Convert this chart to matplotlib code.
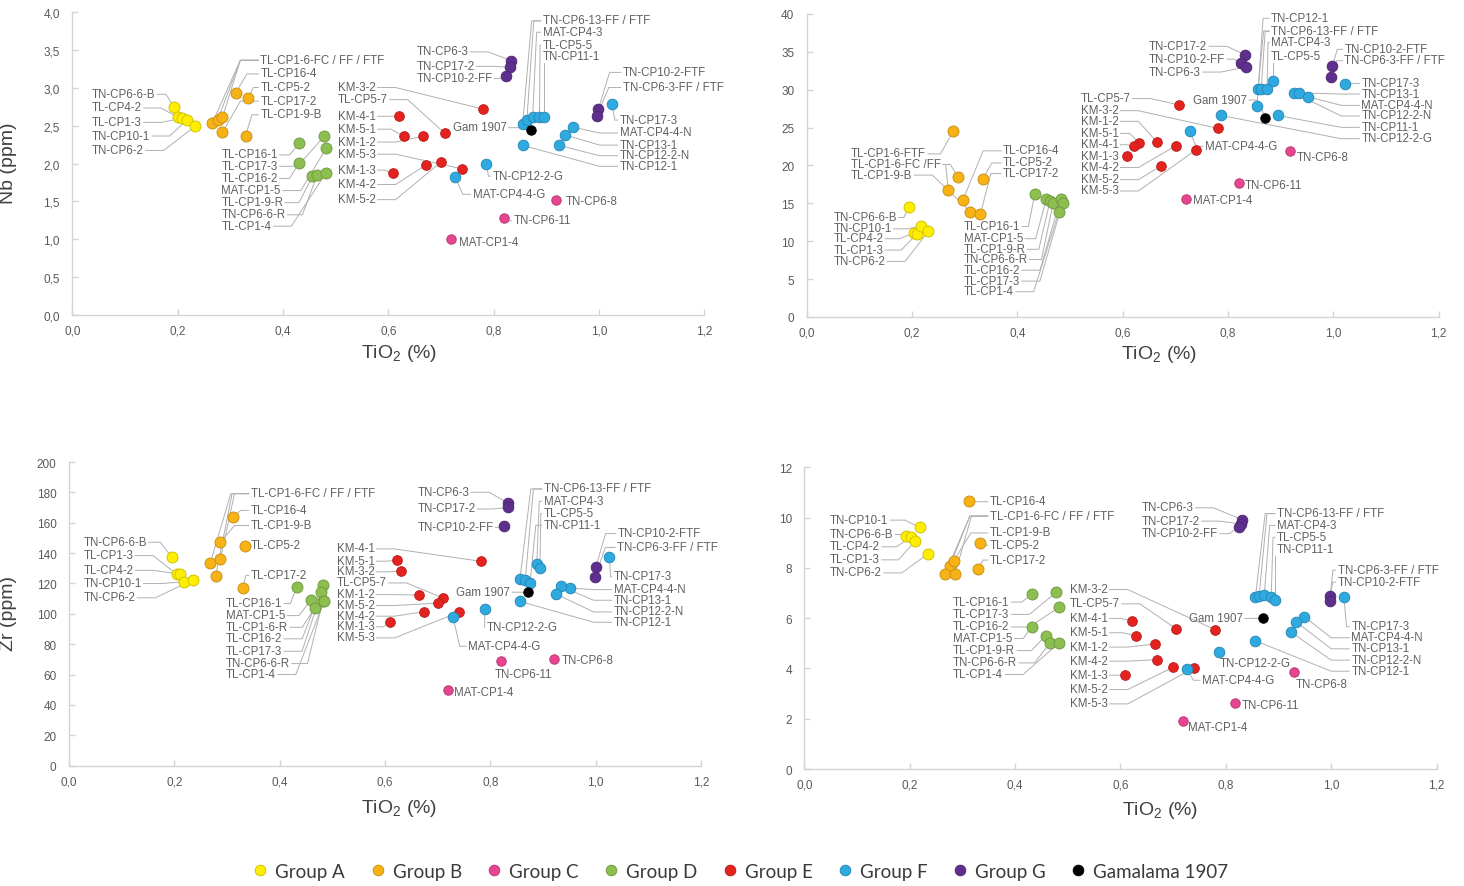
import matplotlib
matplotlib.use('Agg')
import matplotlib.pyplot as plt
import matplotlib.colors as mcolors
from matplotlib.lines import Line2D
import numpy as np

plt.rcParams['font.family'] = ['Liberation Sans', 'DejaVu Sans']
plt.rcParams['mathtext.default'] = 'regular'

# ---------------- data ----------------
FC3 = 'TL-CP1-6-FC / FF / FTF'
T13 = 'TN-CP6-13-FF / FTF'
T63 = 'TN-CP6-3-FF / FTF'

# group of every point (same composition in every panel)
point_groups = (['A'] * 5 + ['B'] * 7 + ['D'] * 7 + ['E'] * 9 + ['F'] * 12 +
                ['G'] * 5 + ['C'] * 3 + ['Gam'])

# Panel 1 : Nb vs TiO2
p1_names = ['TN-CP6-6-B', 'TL-CP4-2', 'TL-CP1-3', 'TN-CP10-1', 'TN-CP6-2',
            FC3, FC3, FC3, 'TL-CP16-4', 'TL-CP5-2', 'TL-CP17-2', 'TL-CP1-9-B',
            'TL-CP16-1', 'TL-CP17-3', 'TL-CP16-2', 'MAT-CP1-5', 'TL-CP1-9-R', 'TN-CP6-6-R', 'TL-CP1-4',
            'KM-3-2', 'TL-CP5-7', 'KM-4-1', 'KM-5-1', 'KM-1-2', 'KM-5-3', 'KM-1-3', 'KM-4-2', 'KM-5-2',
            T13, T13, 'MAT-CP4-3', 'TL-CP5-5', 'TN-CP11-1', 'TN-CP17-3', 'MAT-CP4-4-N', 'TN-CP13-1',
            'TN-CP12-2-N', 'TN-CP12-1', 'TN-CP12-2-G', 'MAT-CP4-4-G',
            'TN-CP6-3', 'TN-CP17-2', 'TN-CP10-2-FF', 'TN-CP10-2-FTF', T63,
            'TN-CP6-8', 'TN-CP6-11', 'MAT-CP1-4', 'Gam 1907']
p1_tio2 = [0.194, 0.201, 0.209, 0.218, 0.233,
           0.266, 0.276, 0.285, 0.310, 0.334, 0.285, 0.329,
           0.431, 0.478, 0.431, 0.482, 0.456, 0.465, 0.482,
           0.779, 0.707, 0.620, 0.630, 0.666, 0.740, 0.608, 0.671, 0.700,
           0.855, 0.863, 0.874, 0.887, 0.895, 1.025, 0.951, 0.935, 0.924, 0.855, 0.786, 0.727,
           0.833, 0.831, 0.823, 0.999, 0.996,
           0.919, 0.819, 0.719, 0.870]
p1_nb = [2.74, 2.61, 2.60, 2.58, 2.49,
         2.54, 2.58, 2.61, 2.93, 2.86, 2.41, 2.37,
         2.27, 2.36, 2.01, 2.20, 1.83, 1.85, 1.88,
         2.72, 2.40, 2.63, 2.36, 2.36, 1.93, 1.87, 1.98, 2.02,
         2.52, 2.57, 2.61, 2.62, 2.61, 2.78, 2.48, 2.38, 2.24, 2.24, 2.00, 1.82,
         3.36, 3.27, 3.15, 2.72, 2.63,
         1.52, 1.28, 1.00, 2.44]

# Panel 2 : top-right (0-40)
p2_names = ['TN-CP6-6-B', 'TL-CP4-2', 'TL-CP1-3', 'TN-CP10-1', 'TN-CP6-2',
            'TL-CP1-6-FTF', 'TL-CP1-6-FC /FF', 'TL-CP1-6-FC /FF', 'TL-CP16-4', 'TL-CP1-9-B', 'TL-CP17-2', 'TL-CP5-2',
            'TL-CP16-1', 'MAT-CP1-5', 'TL-CP1-9-R', 'TN-CP6-6-R', 'TL-CP16-2', 'TL-CP17-3', 'TL-CP1-4',
            'TL-CP5-7', 'KM-3-2', 'KM-1-2', 'KM-4-2', 'KM-5-3', 'KM-5-1', 'KM-4-1', 'KM-1-3', 'KM-5-2',
            'TL-CP5-5', T13, T13, 'MAT-CP4-3', 'TN-CP12-1', 'TN-CP12-2-G', 'MAT-CP4-4-G', 'TN-CP11-1',
            'TN-CP12-2-N', 'TN-CP13-1', 'MAT-CP4-4-N', 'TN-CP17-3',
            'TN-CP17-2', 'TN-CP10-2-FF', 'TN-CP6-3', 'TN-CP10-2-FTF', T63,
            'TN-CP6-8', 'TN-CP6-11', 'MAT-CP1-4', 'Gam 1907']
p2_tio2 = [0.194, 0.204, 0.210, 0.217, 0.231,
           0.278, 0.269, 0.287, 0.297, 0.311, 0.330, 0.334,
           0.433, 0.455, 0.462, 0.468, 0.482, 0.486, 0.479,
           0.707, 0.781, 0.665, 0.701, 0.740, 0.631, 0.621, 0.608, 0.672,
           0.885, 0.857, 0.863, 0.874, 0.855, 0.787, 0.727, 0.894, 0.925, 0.935, 0.951, 1.023,
           0.832, 0.824, 0.834, 0.998, 0.996,
           0.918, 0.820, 0.720, 0.871]
p2_val = [14.5, 11.1, 11.0, 12.0, 11.3,
          24.5, 16.8, 18.5, 15.5, 13.9, 13.6, 18.2,
          16.2, 15.6, 15.3, 15.0, 15.6, 15.1, 13.9,
          28.0, 24.9, 23.1, 22.6, 22.1, 23.0, 22.6, 21.2, 19.9,
          31.2, 30.1, 30.1, 30.1, 27.8, 26.6, 24.5, 26.6, 29.6, 29.6, 29.1, 30.7,
          34.6, 33.5, 33.0, 33.1, 31.7,
          21.9, 17.7, 15.6, 26.3]

# Panel 3 : Zr vs TiO2
p3_names = ['TN-CP6-6-B', 'TL-CP1-3', 'TL-CP4-2', 'TN-CP10-1', 'TN-CP6-2',
            FC3, FC3, FC3, 'TL-CP16-4', 'TL-CP1-9-B', 'TL-CP5-2', 'TL-CP17-2',
            'TL-CP16-1', 'MAT-CP1-5', 'TL-CP1-6-R', 'TL-CP16-2', 'TL-CP17-3', 'TN-CP6-6-R', 'TL-CP1-4',
            'KM-4-1', 'KM-5-1', 'KM-3-2', 'TL-CP5-7', 'KM-1-2', 'KM-5-2', 'KM-4-2', 'KM-1-3', 'KM-5-3',
            T13, T13, 'MAT-CP4-3', 'TL-CP5-5', 'TN-CP11-1', 'TN-CP17-3', 'MAT-CP4-4-N', 'TN-CP13-1',
            'TN-CP12-2-N', 'TN-CP12-1', 'TN-CP12-2-G', 'MAT-CP4-4-G',
            'TN-CP6-3', 'TN-CP17-2', 'TN-CP10-2-FF', 'TN-CP10-2-FTF', T63,
            'TN-CP6-8', 'TN-CP6-11', 'MAT-CP1-4', 'Gam 1907']
p3_tio2 = [0.195, 0.204, 0.211, 0.218, 0.235,
           0.268, 0.287, 0.278, 0.311, 0.287, 0.334, 0.330,
           0.432, 0.459, 0.466, 0.482, 0.479, 0.482, 0.484,
           0.782, 0.622, 0.630, 0.710, 0.665, 0.700, 0.673, 0.609, 0.741,
           0.856, 0.866, 0.888, 0.894, 0.875, 1.026, 0.951, 0.934, 0.925, 0.856, 0.789, 0.729,
           0.833, 0.834, 0.825, 1.000, 0.999,
           0.920, 0.820, 0.720, 0.872]
p3_zr = [137.2, 126.2, 126.2, 121.1, 122.3,
         133.4, 135.9, 124.7, 163.5, 147.1, 144.8, 117.0,
         117.8, 109.1, 103.6, 119.0, 114.2, 108.7, 108.2,
         134.6, 135.4, 128.4, 110.4, 112.4, 107.1, 101.4, 94.8, 101.2,
         122.7, 122.2, 132.8, 130.1, 120.0, 137.6, 117.0, 118.1, 113.0, 108.2, 103.3, 97.8,
         173.1, 170.1, 157.6, 130.6, 124.4,
         70.2, 68.7, 49.8, 114.1]

# Panel 4 : bottom-right (0-12)
p4_names = ['TN-CP10-1', 'TN-CP6-6-B', 'TL-CP4-2', 'TL-CP1-3', 'TN-CP6-2',
            FC3, FC3, FC3, 'TL-CP16-4', 'TL-CP1-9-B', 'TL-CP5-2', 'TL-CP17-2',
            'TL-CP16-1', 'TL-CP17-3', 'TL-CP16-2', 'MAT-CP1-5', 'TL-CP1-9-R', 'TN-CP6-6-R', 'TL-CP1-4',
            'KM-3-2', 'TL-CP5-7', 'KM-4-1', 'KM-5-1', 'KM-1-2', 'KM-4-2', 'KM-1-3', 'KM-5-2', 'KM-5-3',
            T13, T13, 'MAT-CP4-3', 'TL-CP5-5', 'TN-CP11-1', 'TN-CP17-3', 'MAT-CP4-4-N', 'TN-CP13-1',
            'TN-CP12-2-N', 'TN-CP12-1', 'TN-CP12-2-G', 'MAT-CP4-4-G',
            'TN-CP6-3', 'TN-CP17-2', 'TN-CP10-2-FF', T63, 'TN-CP10-2-FTF',
            'TN-CP6-8', 'TN-CP6-11', 'MAT-CP1-4', 'Gam 1907']
p4_tio2 = [0.219, 0.193, 0.202, 0.210, 0.234,
           0.276, 0.267, 0.286, 0.312, 0.284, 0.333, 0.330,
           0.432, 0.478, 0.483, 0.432, 0.458, 0.466, 0.483,
           0.780, 0.706, 0.621, 0.629, 0.665, 0.669, 0.608, 0.700, 0.739,
           0.856, 0.863, 0.873, 0.886, 0.894, 1.024, 0.949, 0.933, 0.924, 0.856, 0.787, 0.726,
           0.831, 0.829, 0.824, 0.998, 0.997,
           0.929, 0.818, 0.718, 0.870]
p4_val = [9.61, 9.28, 9.21, 9.06, 8.55,
          8.06, 7.74, 7.76, 10.67, 8.29, 9.00, 7.94,
          6.96, 7.03, 6.43, 5.66, 5.30, 5.01, 5.01,
          5.54, 5.57, 5.90, 5.30, 4.97, 4.35, 3.75, 4.05, 4.01,
          6.83, 6.87, 6.93, 6.85, 6.73, 6.83, 6.06, 5.86, 5.44, 5.10, 4.67, 3.98,
          9.92, 9.75, 9.61, 6.87, 6.69,
          3.87, 2.61, 1.92, 6.01]

legend_labels = ['Group A', 'Group B', 'Group C', 'Group D', 'Group E', 'Group F', 'Group G', 'Gamalama 1907']
legend_groups = ['A', 'B', 'C', 'D', 'E', 'F', 'G', 'Gam']
xticks = [0.0, 0.2, 0.4, 0.6, 0.8, 1.0, 1.2]

# ---------------- layout (label anchor positions, left edge) ----------------
p1_labels = {
    'TN-CP6-6-B': (0.037, 2.92), 'TL-CP4-2': (0.037, 2.74), 'TL-CP1-3': (0.037, 2.55),
    'TN-CP10-1': (0.037, 2.37), 'TN-CP6-2': (0.037, 2.18),
    FC3: (0.357, 3.37), 'TL-CP16-4': (0.357, 3.19), 'TL-CP5-2': (0.357, 3.01),
    'TL-CP17-2': (0.357, 2.83), 'TL-CP1-9-B': (0.357, 2.65),
    'TL-CP16-1': (0.283, 2.12), 'TL-CP17-3': (0.283, 1.97), 'TL-CP16-2': (0.283, 1.81),
    'MAT-CP1-5': (0.283, 1.65), 'TL-CP1-9-R': (0.283, 1.49), 'TN-CP6-6-R': (0.283, 1.33),
    'TL-CP1-4': (0.283, 1.18),
    'KM-3-2': (0.504, 3.01), 'TL-CP5-7': (0.504, 2.85), 'KM-4-1': (0.504, 2.63),
    'KM-5-1': (0.504, 2.46), 'KM-1-2': (0.504, 2.29), 'KM-5-3': (0.504, 2.13),
    'KM-1-3': (0.504, 1.92), 'KM-4-2': (0.504, 1.73), 'KM-5-2': (0.504, 1.53),
    'Gam 1907': (0.722, 2.48),
    'TN-CP6-3': (0.653, 3.48), 'TN-CP17-2': (0.653, 3.29), 'TN-CP10-2-FF': (0.653, 3.13),
    T13: (0.893, 3.89), 'MAT-CP4-3': (0.893, 3.74), 'TL-CP5-5': (0.893, 3.57), 'TN-CP11-1': (0.893, 3.42),
    'TN-CP10-2-FTF': (1.045, 3.21), T63: (1.045, 3.01),
    'TN-CP17-3': (1.039, 2.58), 'MAT-CP4-4-N': (1.039, 2.41), 'TN-CP13-1': (1.039, 2.25),
    'TN-CP12-2-N': (1.039, 2.11), 'TN-CP12-1': (1.039, 1.97),
    'TN-CP12-2-G': (0.798, 1.84), 'MAT-CP4-4-G': (0.760, 1.60), 'TN-CP6-8': (0.937, 1.50),
    'TN-CP6-11': (0.838, 1.25), 'MAT-CP1-4': (0.735, 0.96),
}
p2_labels = {
    'TN-CP6-6-B': (0.0505, 13.2), 'TN-CP10-1': (0.0505, 11.7), 'TL-CP4-2': (0.0505, 10.4),
    'TL-CP1-3': (0.0505, 8.9), 'TN-CP6-2': (0.0505, 7.4),
    'TL-CP1-6-FTF': (0.084, 21.6), 'TL-CP1-6-FC /FF': (0.084, 20.2), 'TL-CP1-9-B': (0.084, 18.8),
    'TL-CP16-4': (0.373, 22.0), 'TL-CP5-2': (0.373, 20.4), 'TL-CP17-2': (0.373, 19.0),
    'TL-CP16-1': (0.298, 12.0), 'MAT-CP1-5': (0.298, 10.4), 'TL-CP1-9-R': (0.298, 9.0),
    'TN-CP6-6-R': (0.298, 7.65), 'TL-CP16-2': (0.298, 6.25), 'TL-CP17-3': (0.298, 4.8),
    'TL-CP1-4': (0.298, 3.4),
    'TL-CP5-7': (0.520, 28.9), 'KM-3-2': (0.520, 27.3), 'KM-1-2': (0.520, 25.9),
    'KM-5-1': (0.520, 24.3), 'KM-4-1': (0.520, 22.8), 'KM-1-3': (0.520, 21.3),
    'KM-4-2': (0.520, 19.8), 'KM-5-2': (0.520, 18.2), 'KM-5-3': (0.520, 16.7),
    'Gam 1907': (0.734, 28.7),
    'TN-CP17-2': (0.650, 35.8), 'TN-CP10-2-FF': (0.650, 34.1), 'TN-CP6-3': (0.650, 32.4),
    'TN-CP12-1': (0.882, 39.5), T13: (0.882, 37.8), 'MAT-CP4-3': (0.882, 36.3), 'TL-CP5-5': (0.882, 34.5),
    'TN-CP10-2-FTF': (1.021, 35.4), T63: (1.021, 33.9),
    'TN-CP17-3': (1.053, 30.9), 'TN-CP13-1': (1.053, 29.5), 'MAT-CP4-4-N': (1.053, 28.0),
    'TN-CP12-2-N': (1.053, 26.6), 'TN-CP11-1': (1.053, 25.1), 'TN-CP12-2-G': (1.053, 23.6),
    'MAT-CP4-4-G': (0.756, 22.6), 'TN-CP6-8': (0.930, 21.1), 'TN-CP6-11': (0.832, 17.4),
    'MAT-CP1-4': (0.734, 15.5),
}
p3_labels = {
    'TN-CP6-6-B': (0.027, 147.5), 'TL-CP1-3': (0.027, 138.7), 'TL-CP4-2': (0.027, 129.0),
    'TN-CP10-1': (0.027, 120.3), 'TN-CP6-2': (0.027, 110.9),
    FC3: (0.345, 179.5), 'TL-CP16-4': (0.345, 168.5), 'TL-CP1-9-B': (0.345, 158.5),
    'TL-CP5-2': (0.345, 145.5), 'TL-CP17-2': (0.345, 125.7),
    'TL-CP16-1': (0.2975, 107.1), 'MAT-CP1-5': (0.2975, 99.2), 'TL-CP1-6-R': (0.2975, 91.5),
    'TL-CP16-2': (0.2975, 83.9), 'TL-CP17-3': (0.2975, 75.7), 'TN-CP6-6-R': (0.2975, 67.6),
    'TL-CP1-4': (0.2975, 60.4),
    'KM-4-1': (0.508, 143.1), 'KM-5-1': (0.508, 135.0), 'KM-3-2': (0.508, 128.0),
    'TL-CP5-7': (0.508, 120.7), 'KM-1-2': (0.508, 113.0), 'KM-5-2': (0.508, 105.8),
    'KM-4-2': (0.508, 98.8), 'KM-1-3': (0.508, 91.8), 'KM-5-3': (0.508, 84.5),
    'Gam 1907': (0.735, 114.6),
    'TN-CP6-3': (0.661, 180.4), 'TN-CP17-2': (0.661, 169.4), 'TN-CP10-2-FF': (0.661, 157.3),
    T13: (0.901, 182.6), 'MAT-CP4-3': (0.901, 174.5), 'TL-CP5-5': (0.901, 166.4), 'TN-CP11-1': (0.901, 158.7),
    'TN-CP10-2-FTF': (1.041, 153.2), T63: (1.041, 144.1),
    'TN-CP17-3': (1.034, 124.7), 'MAT-CP4-4-N': (1.034, 116.3), 'TN-CP13-1': (1.034, 109.3),
    'TN-CP12-2-N': (1.034, 101.6), 'TN-CP12-1': (1.034, 94.8),
    'TN-CP12-2-G': (0.793, 91.5), 'MAT-CP4-4-G': (0.758, 79.0), 'TN-CP6-8': (0.936, 69.8),
    'TN-CP6-11': (0.808, 60.4), 'MAT-CP1-4': (0.730, 48.3),
}
p4_labels = {
    'TN-CP10-1': (0.0487, 9.92), 'TN-CP6-6-B': (0.0487, 9.35), 'TL-CP4-2': (0.0487, 8.86),
    'TL-CP1-3': (0.0487, 8.34), 'TN-CP6-2': (0.0487, 7.82),
    'TL-CP16-4': (0.352, 10.65), FC3: (0.352, 10.08), 'TL-CP1-9-B': (0.352, 9.41),
    'TL-CP5-2': (0.352, 8.92), 'TL-CP17-2': (0.352, 8.33),
    'TL-CP16-1': (0.2825, 6.66), 'TL-CP17-3': (0.2825, 6.17), 'TL-CP16-2': (0.2825, 5.67),
    'MAT-CP1-5': (0.2825, 5.21), 'TL-CP1-9-R': (0.2825, 4.73), 'TN-CP6-6-R': (0.2825, 4.24),
    'TL-CP1-4': (0.2825, 3.78),
    'KM-3-2': (0.504, 7.16), 'TL-CP5-7': (0.504, 6.59), 'KM-4-1': (0.504, 6.01),
    'KM-5-1': (0.504, 5.44), 'KM-1-2': (0.504, 4.87), 'KM-4-2': (0.504, 4.31),
    'KM-1-3': (0.504, 3.75), 'KM-5-2': (0.504, 3.18), 'KM-5-3': (0.504, 2.61),
    'Gam 1907': (0.730, 6.01),
    'TN-CP6-3': (0.640, 10.41), 'TN-CP17-2': (0.640, 9.88), 'TN-CP10-2-FF': (0.640, 9.38),
    T13: (0.897, 10.18), 'MAT-CP4-3': (0.897, 9.71), 'TL-CP5-5': (0.897, 9.24), 'TN-CP11-1': (0.897, 8.75),
    T63: (1.012, 7.93), 'TN-CP10-2-FTF': (1.012, 7.45),
    'TN-CP17-3': (1.038, 5.68), 'MAT-CP4-4-N': (1.038, 5.24), 'TN-CP13-1': (1.038, 4.80),
    'TN-CP12-2-N': (1.038, 4.35), 'TN-CP12-1': (1.038, 3.91),
    'TN-CP12-2-G': (0.789, 4.22), 'MAT-CP4-4-G': (0.755, 3.55), 'TN-CP6-8': (0.932, 3.38),
    'TN-CP6-11': (0.831, 2.56), 'MAT-CP1-4': (0.728, 1.68),
}

# ---------------- styles ----------------
COLORS = {'A': '#FFEE00', 'B': '#F7B216', 'C': '#E5468F', 'D': '#8CBE50',
          'E': '#E42320', 'F': '#2FAAE1', 'G': '#5F2F8E', 'Gam': '#000000'}
SIZES = {'A': 62, 'B': 62, 'C': 46, 'D': 62, 'E': 48, 'F': 58, 'G': 58, 'Gam': 46}
TXT = '#606060'
LINE = '#b0b0b0'
AXC = '#d4d4d4'


def darker(c, f=0.82):
    r, g, b = mcolors.to_rgb(c)
    return (r * f, g * f, b * f)


fig = plt.figure(figsize=(14.64, 8.87), dpi=100)
ax1 = fig.add_axes([0.0494, 0.6437, 0.4317, 0.3416])
ax2 = fig.add_axes([0.5510, 0.6415, 0.4317, 0.3416])
ax3 = fig.add_axes([0.0472, 0.1356, 0.4317, 0.3424])
ax4 = fig.add_axes([0.5494, 0.1319, 0.4319, 0.3401])


def comma(v, nd):
    return f'{v:.{nd}f}'.replace('.', ',')


def style_axis(ax, ymax, ystep, ydec):
    ax.set_xlim(0, 1.2)
    ax.set_ylim(0, ymax)
    for s in ['top', 'right']:
        ax.spines[s].set_visible(False)
    for s in ['left', 'bottom']:
        ax.spines[s].set_color(AXC)
        ax.spines[s].set_linewidth(1.0)
    yt = np.arange(0, ymax + ystep / 2, ystep)
    ax.set_xticks(xticks)
    ax.set_xticklabels([comma(v, 1) for v in xticks])
    ax.set_yticks(yt)
    ax.set_yticklabels([comma(v, ydec) for v in yt])
    ax.tick_params(direction='in', length=4, width=1, color=AXC, labelsize=8.5,
                   labelcolor='#595959')
    ax.tick_params(axis='x', pad=7)
    ax.tick_params(axis='y', pad=9)
    ax.set_xlabel('TiO$_2$ (%)', fontsize=14, color='#404040')


def draw_points(ax, xs, ys):
    for g in ['A', 'B', 'D', 'E', 'F', 'G', 'C', 'Gam']:
        sx = [x for x, gg in zip(xs, point_groups) if gg == g]
        sy = [y for y, gg in zip(ys, point_groups) if gg == g]
        ax.scatter(sx, sy, s=SIZES[g], color=COLORS[g], edgecolors=[darker(COLORS[g])],
                   linewidths=0.7, zorder=3, clip_on=False)


def draw_labels(ax, labels):
    texts = {}
    for name, (lx, ly) in labels.items():
        texts[name] = ax.text(lx, ly, name, ha='left', va='center', fontsize=8.3,
                              color=TXT, zorder=4, clip_on=False)
    return texts


panels = [
    (ax1, p1_names, p1_tio2, p1_nb, p1_labels, 4.0, 0.5, 1),
    (ax2, p2_names, p2_tio2, p2_val, p2_labels, 40, 5, 0),
    (ax3, p3_names, p3_tio2, p3_zr, p3_labels, 200, 20, 0),
    (ax4, p4_names, p4_tio2, p4_val, p4_labels, 12, 2, 0),
]

all_texts = []
for ax, names, xs, ys, labels, ymax, ystep, ydec in panels:
    style_axis(ax, ymax, ystep, ydec)
    draw_points(ax, xs, ys)
    all_texts.append(draw_labels(ax, labels))

ax1.set_ylabel('Nb (ppm)', fontsize=14, color='#404040')
ax3.set_ylabel('Zr (ppm)', fontsize=14, color='#404040')
ax1.yaxis.set_label_coords(-0.087, 0.505)
ax3.yaxis.set_label_coords(-0.082, 0.506)
for ax, cx, cy in [(ax1, 0.517, -0.125), (ax2, 0.558, -0.119), (ax3, 0.522, -0.136), (ax4, 0.563, -0.133)]:
    ax.xaxis.set_label_coords(cx, cy)
    ax.xaxis.label.set_va('center')

# leader lines
fig.canvas.draw()
renderer = fig.canvas.get_renderer()
for (ax, names, xs, ys, labels, *_), texts in zip(panels, all_texts):
    inv = ax.transData.inverted()
    for n, x, y in zip(names, xs, ys):
        t = texts.get(n)
        if t is None:
            continue
        bb = t.get_window_extent(renderer)
        px, py = ax.transData.transform((x, y))
        cy = 0.5 * (bb.y0 + bb.y1) - 0.5
        if px > bb.x1 + 2:
            sx, d = bb.x1 + 2, 1
        elif px < bb.x0 - 2:
            sx, d = bb.x0 - 2, -1
        else:
            sy = bb.y0 - 1 if py < cy else bb.y1 + 1
            if abs(sy - py) < 7:
                continue
            pts = np.array([(px, sy), (px, py)])
            dpts = inv.transform(pts)
            ax.plot(dpts[:, 0], dpts[:, 1], color=LINE, lw=0.7, zorder=1, clip_on=False)
            continue
        if np.hypot(px - sx, py - cy) < 8:
            continue
        ex = sx + d * min(0.5 * abs(px - sx), 18)
        pts = np.array([(sx, cy), (ex, cy), (px, py)])
        dpts = inv.transform(pts)
        ax.plot(dpts[:, 0], dpts[:, 1], color=LINE, lw=0.7, zorder=1, clip_on=False)

# legend
handles = [Line2D([], [], linestyle='none', marker='o', markersize=7.6,
                  markerfacecolor=COLORS[g], markeredgecolor=darker(COLORS[g]),
                  markeredgewidth=0.7) for g in legend_groups]
fig.legend(handles, legend_labels, loc='center', bbox_to_anchor=(0.505, 0.0169), ncol=8,
           frameon=False, prop={'family': 'Lato', 'size': 13.5}, handletextpad=0.25,
           columnspacing=1.18, handlelength=1.1, labelcolor='#3a3a3a')

fig.savefig('out.png', dpi=100)
